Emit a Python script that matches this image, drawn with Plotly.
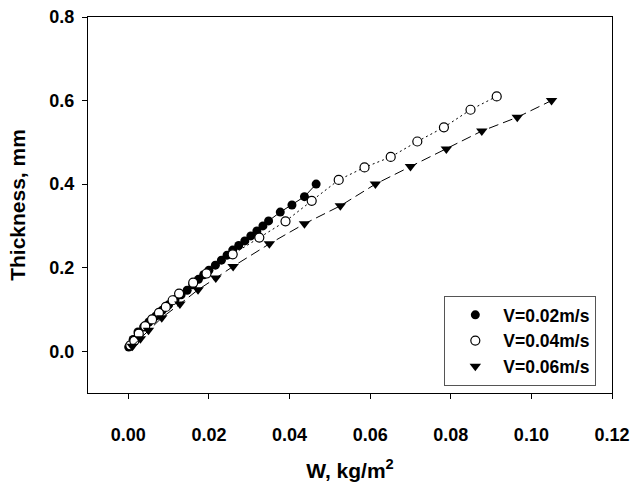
import plotly.graph_objects as go

# -- data --
w_02 = [0.0001, 0.0012, 0.0024, 0.0038, 0.0051, 0.0068, 0.0084, 0.0100, 0.0116, 0.0131,
        0.0146, 0.0160, 0.0174, 0.0187, 0.0200, 0.0216, 0.0231, 0.0245, 0.0259, 0.0274,
        0.0289, 0.0304, 0.0319, 0.0334, 0.0348, 0.0377, 0.0406, 0.0437, 0.0466]
t_02 = [0.010, 0.028, 0.046, 0.058, 0.070, 0.084, 0.098, 0.111, 0.124, 0.135,
        0.146, 0.159, 0.172, 0.183, 0.194, 0.206, 0.218, 0.230, 0.242, 0.253,
        0.264, 0.276, 0.288, 0.300, 0.312, 0.333, 0.350, 0.370, 0.400]

w_04 = [0.0005, 0.0015, 0.0026, 0.0042, 0.0059, 0.0076, 0.0093, 0.0110, 0.0126, 0.0161,
        0.0194, 0.0259, 0.0325, 0.0390, 0.0455, 0.0522, 0.0586, 0.0651, 0.0717, 0.0783,
        0.0849, 0.0914]
t_04 = [0.014, 0.025, 0.042, 0.060, 0.076, 0.092, 0.106, 0.122, 0.138, 0.164,
        0.186, 0.232, 0.272, 0.311, 0.360, 0.410, 0.440, 0.465, 0.502, 0.536,
        0.578, 0.610]

w_06 = [0.0010, 0.0030, 0.0050, 0.0083, 0.0128, 0.0173, 0.0217, 0.0260, 0.0350, 0.0437,
        0.0526, 0.0613, 0.0700, 0.0789, 0.0877, 0.0965, 0.1050]
t_06 = [0.012, 0.030, 0.050, 0.080, 0.113, 0.147, 0.175, 0.203, 0.257, 0.305,
        0.348, 0.400, 0.442, 0.484, 0.527, 0.560, 0.600]

names = ['V=0.02m/s', 'V=0.04m/s', 'V=0.06m/s']

FONT = 'Liberation Sans, Arial, sans-serif'

m_02 = dict(symbol='circle', size=9, color='black')
m_04 = dict(symbol='circle', size=9, color='white', line=dict(color='black', width=1.2))
m_06 = dict(symbol='triangle-down', size=10, color='black')

fig = go.Figure()

fig.add_trace(go.Scatter(x=w_02, y=t_02, mode='lines+markers', showlegend=False,
                         line=dict(color='black', width=1), marker=m_02))
fig.add_trace(go.Scatter(x=w_04, y=t_04, mode='lines+markers', showlegend=False,
                         line=dict(color='black', width=1, dash='2px,3px'), marker=m_04))
fig.add_trace(go.Scatter(x=w_06, y=t_06, mode='lines+markers', showlegend=False,
                         line=dict(color='black', width=1, dash='10px,5px'), marker=m_06))

# legend entries: symbols only, like the original
for nm, mk in zip(names, [m_02, m_04, m_06]):
    fig.add_trace(go.Scatter(x=[None], y=[None], mode='markers', name=nm, marker=mk))

axis_common = dict(showgrid=False, zeroline=False, showline=True, linecolor='black',
                   linewidth=1, mirror=True, ticks='outside', ticklen=5, tickcolor='black',
                   ticklabeloverflow='allow',
                   tickfont=dict(family=FONT, size=18, color='black', weight='bold'))

fig.update_layout(
    width=634, height=484,
    margin=dict(l=88, r=22, t=17, b=91, pad=0),
    plot_bgcolor='white', paper_bgcolor='white',
    xaxis=dict(range=[-0.01, 0.12], tickvals=[0, 0.02, 0.04, 0.06, 0.08, 0.1, 0.12],
               tickformat='.2f', ticklabelstandoff=20, automargin=False,
               title=dict(text='W, kg/m<sup>2</sup>', standoff=19,
                          font=dict(family=FONT, size=21, color='black', weight='bold')),
               **axis_common),
    yaxis=dict(range=[-0.1, 0.8], tickvals=[0, 0.2, 0.4, 0.6, 0.8], tickformat='.1f',
               ticklabelstandoff=4, automargin=False,
               title=dict(text='Thickness, mm', standoff=18,
                          font=dict(family=FONT, size=21, color='black', weight='bold')),
               **axis_common),
    legend=dict(x=0.68, y=0.258, xanchor='left', yanchor='top',
                bgcolor='white', bordercolor='#555555', borderwidth=1,
                font=dict(family=FONT, size=17.5, color='black', weight='bold'),
                indentation=2, itemwidth=46, tracegroupgap=0),
)

# page body margin off so the 634x484 figure fills the window
fig.write_html("out.html", config={'displayModeBar': False},
               post_script="document.body.style.margin='0';")
